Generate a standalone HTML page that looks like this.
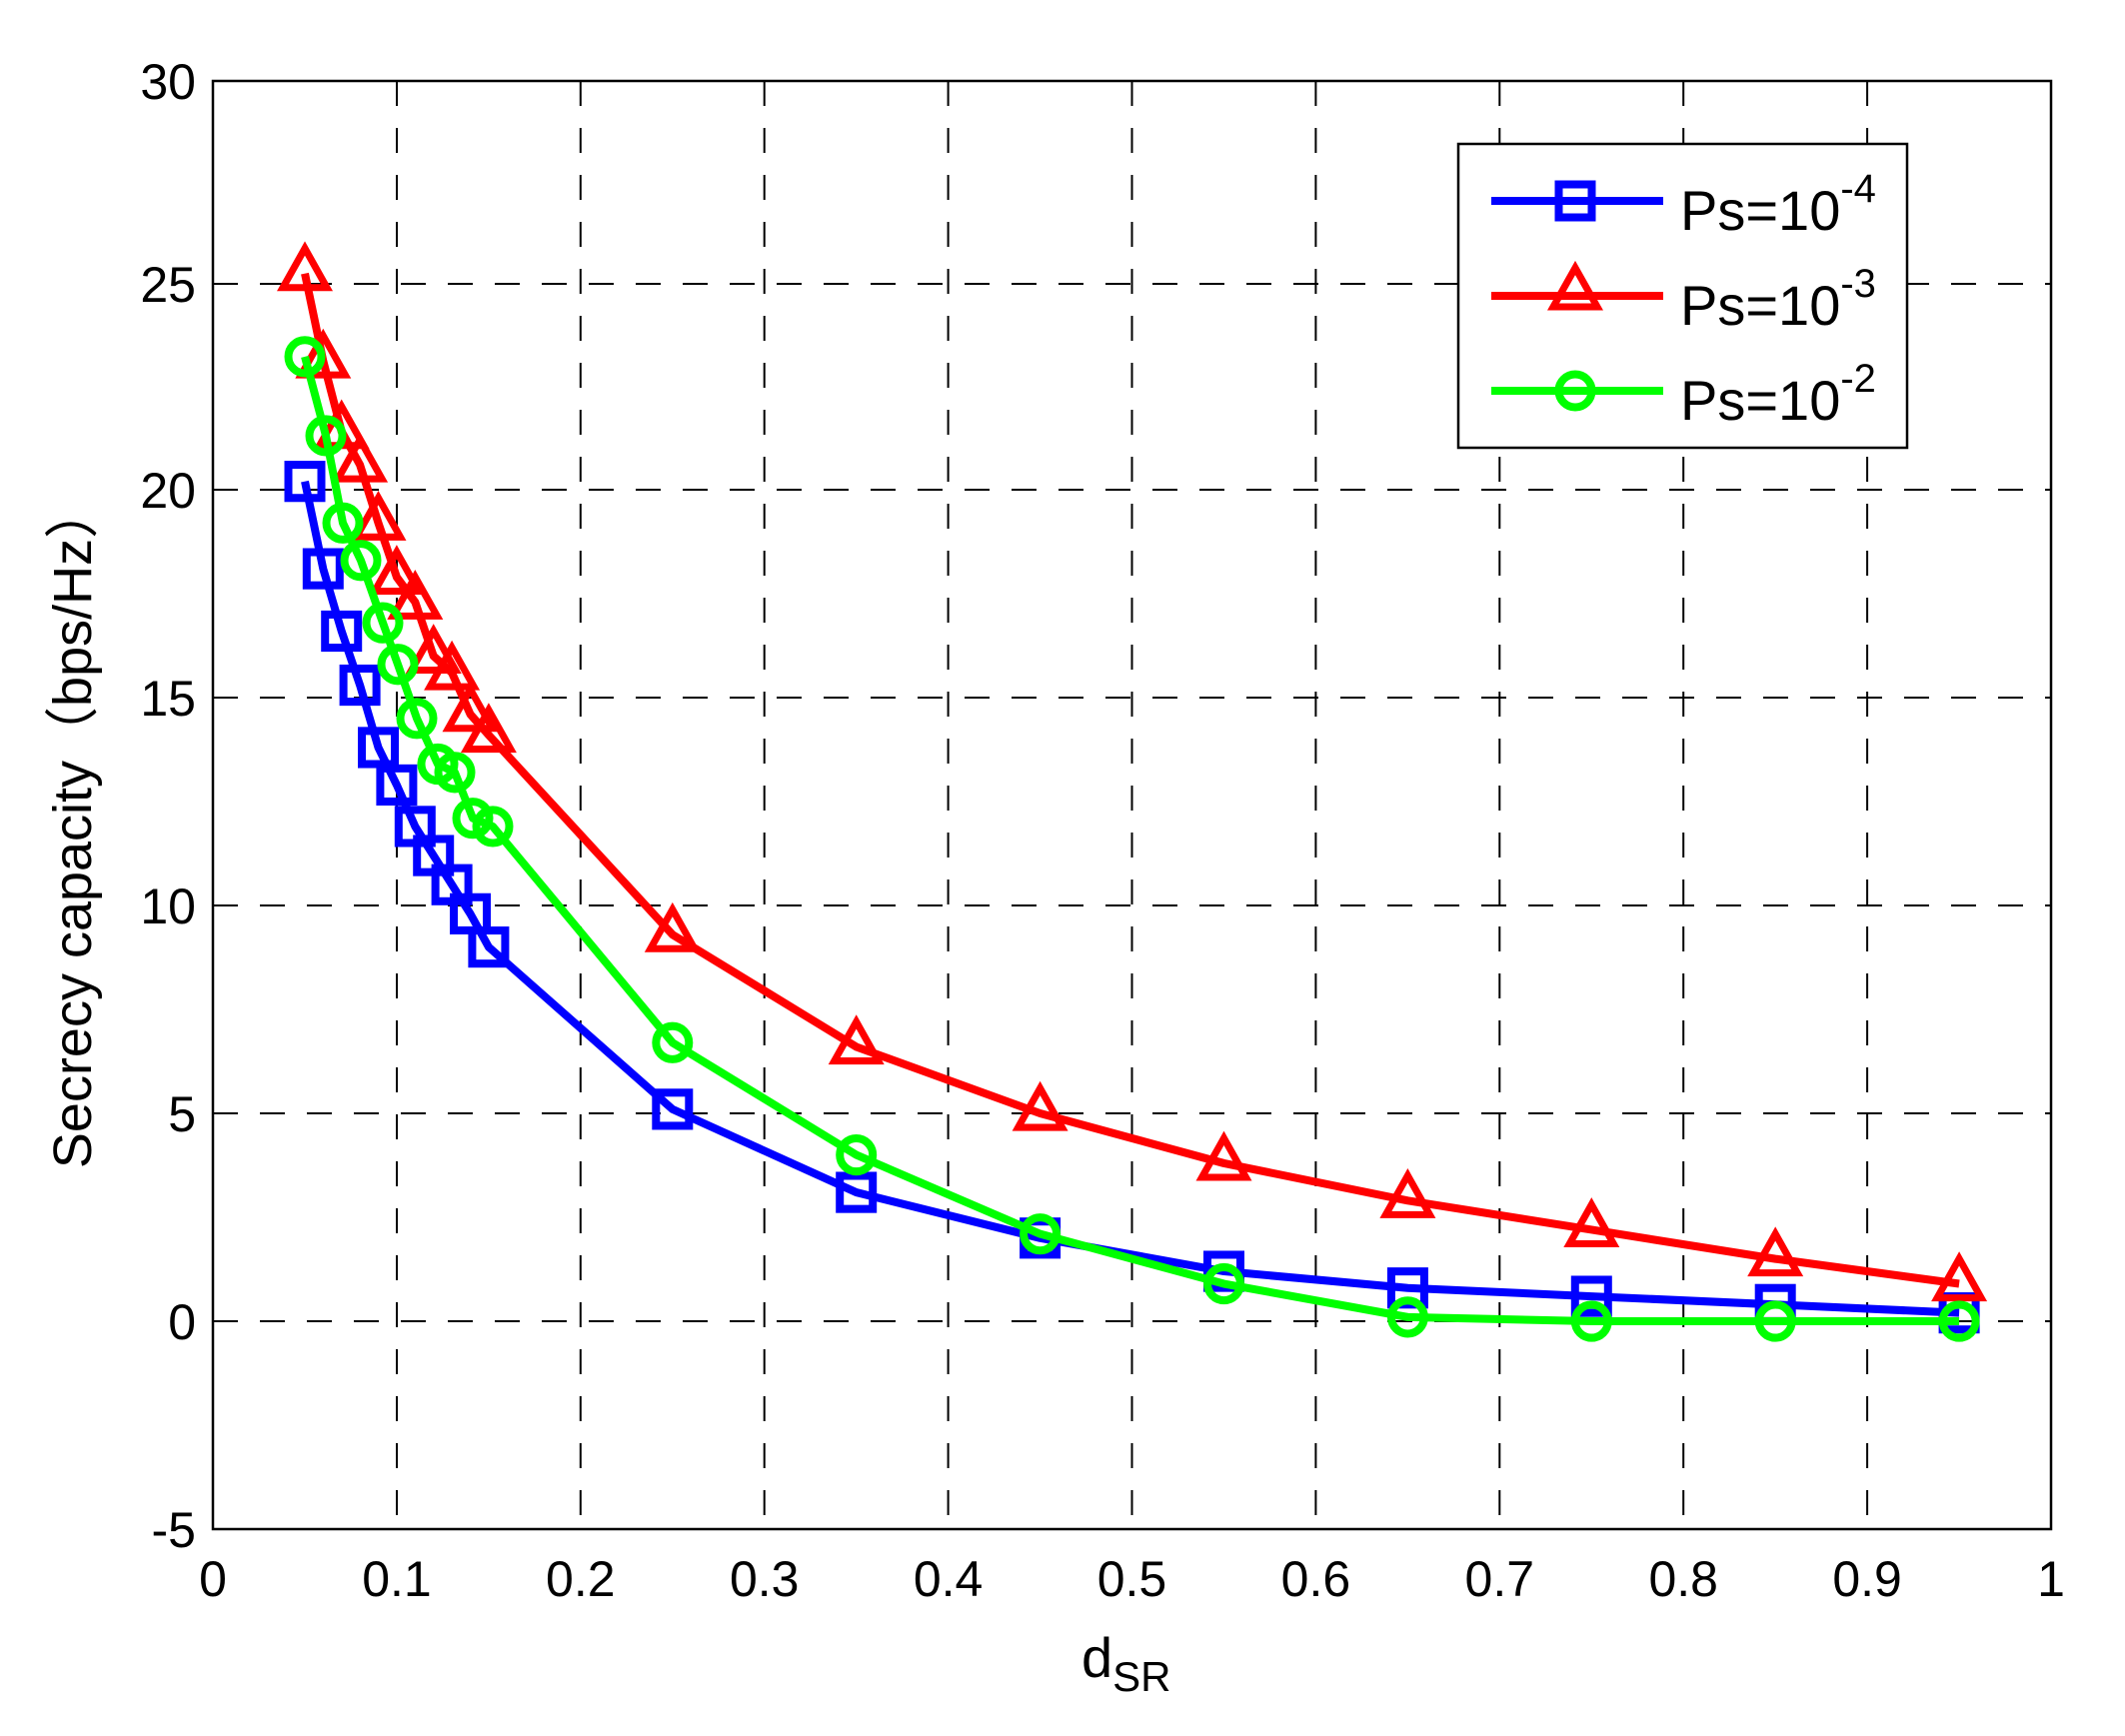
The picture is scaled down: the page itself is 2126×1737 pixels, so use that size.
<!DOCTYPE html>
<html><head><meta charset="utf-8"><style>
html,body{margin:0;padding:0;background:#fff;}
svg{display:block;}
text{font-family:"Liberation Sans","Noto Sans CJK SC",sans-serif;fill:#000;}
</style></head><body>
<svg width="2126" height="1737" viewBox="0 0 2126 1737" xmlns="http://www.w3.org/2000/svg">
<defs>
<g id="sq"><rect x="-16.5" y="-16.5" width="33" height="33" fill="none" stroke="#0000ff" stroke-width="8"/></g>
<g id="tri"><polygon points="0,-25 22,14 -22,14" fill="none" stroke="#ff0000" stroke-width="7"/></g>
<g id="cir"><circle r="16.5" fill="none" stroke="#00ff00" stroke-width="8"/></g>
</defs>
<rect x="0" y="0" width="2126" height="1737" fill="#fff"/>
<g stroke="#000" stroke-width="2" stroke-dasharray="25,22">
<line x1="397" y1="81" x2="397" y2="1530"/><line x1="580.8" y1="81" x2="580.8" y2="1530"/><line x1="764.7" y1="81" x2="764.7" y2="1530"/><line x1="948.6" y1="81" x2="948.6" y2="1530"/><line x1="1132.5" y1="81" x2="1132.5" y2="1530"/><line x1="1316.4" y1="81" x2="1316.4" y2="1530"/><line x1="1500.3" y1="81" x2="1500.3" y2="1530"/><line x1="1684.2" y1="81" x2="1684.2" y2="1530"/><line x1="1868.1" y1="81" x2="1868.1" y2="1530"/>
<line x1="213" y1="284" x2="2052" y2="284"/><line x1="213" y1="490" x2="2052" y2="490"/><line x1="213" y1="698" x2="2052" y2="698"/><line x1="213" y1="906" x2="2052" y2="906"/><line x1="213" y1="1114" x2="2052" y2="1114"/><line x1="213" y1="1322" x2="2052" y2="1322"/>
</g>
<rect x="213" y="81" width="1839" height="1449" fill="none" stroke="#000" stroke-width="2.5"/>
<g font-size="50" text-anchor="end">
<text x="196" y="99">30</text><text x="196" y="302">25</text><text x="196" y="508">20</text><text x="196" y="716">15</text><text x="196" y="924">10</text><text x="196" y="1132">5</text><text x="196" y="1340">0</text><text x="196" y="1548">-5</text>
</g>
<g font-size="50" text-anchor="middle">
<text x="213" y="1597">0</text><text x="397" y="1597">0.1</text><text x="580.8" y="1597">0.2</text><text x="764.7" y="1597">0.3</text><text x="948.6" y="1597">0.4</text><text x="1132.5" y="1597">0.5</text><text x="1316.4" y="1597">0.6</text><text x="1500.3" y="1597">0.7</text><text x="1684.2" y="1597">0.8</text><text x="1868.1" y="1597">0.9</text><text x="2052" y="1597">1</text>
</g>
<text x="1082" y="1678" font-size="56">d<tspan font-size="42" dy="14">SR</tspan></text>
<text transform="translate(91,827) rotate(-90)" font-size="54" text-anchor="middle">Secrecy capacity（bps/Hz）</text>
<g transform="translate(0,74) scale(1,1.00483) translate(0,-80)">
<polyline fill="none" stroke="#0000ff" stroke-width="8" stroke-linejoin="round" points="305,485.7 323.3,572.7 341.7,634.8 360.1,688.6 378.5,750.7 396.9,788 415.3,829.3 433.7,858.3 452.1,887.3 470.5,916.3 488.9,949.4 672.8,1110.9 856.7,1193.7 1040.6,1239.2 1224.5,1272.3 1408.4,1288.9 1592.3,1297.2 1776.2,1305.4 1960.1,1313.7"/>
<use href="#sq" x="305" y="485.7"/><use href="#sq" x="323.3" y="572.7"/><use href="#sq" x="341.7" y="634.8"/><use href="#sq" x="360.1" y="688.6"/><use href="#sq" x="378.5" y="750.7"/><use href="#sq" x="396.9" y="788"/><use href="#sq" x="415.3" y="829.3"/><use href="#sq" x="433.7" y="858.3"/><use href="#sq" x="452.1" y="887.3"/><use href="#sq" x="470.5" y="916.3"/><use href="#sq" x="488.9" y="949.4"/><use href="#sq" x="672.8" y="1110.9"/><use href="#sq" x="856.7" y="1193.7"/><use href="#sq" x="1040.6" y="1239.2"/><use href="#sq" x="1224.5" y="1272.3"/><use href="#sq" x="1408.4" y="1288.9"/><use href="#sq" x="1592.3" y="1297.2"/><use href="#sq" x="1776.2" y="1305.4"/><use href="#sq" x="1960.1" y="1313.7"/>
<polyline fill="none" stroke="#ff0000" stroke-width="8" stroke-linejoin="round" points="305,278.7 323.3,365.7 341.7,436 360.1,469.2 378.5,527.1 396.9,581 415.3,605.8 433.7,659.6 452.1,676.2 470.5,717.6 488.9,738.3 672.8,937 856.7,1048.8 1040.6,1115 1224.5,1164.7 1408.4,1201.9 1592.3,1230.9 1776.2,1259.9 1960.1,1284.7"/>
<use href="#tri" x="305" y="278.7"/><use href="#tri" x="323.3" y="365.7"/><use href="#tri" x="341.7" y="436"/><use href="#tri" x="360.1" y="469.2"/><use href="#tri" x="378.5" y="527.1"/><use href="#tri" x="396.9" y="581"/><use href="#tri" x="415.3" y="605.8"/><use href="#tri" x="433.7" y="659.6"/><use href="#tri" x="452.1" y="676.2"/><use href="#tri" x="470.5" y="717.6"/><use href="#tri" x="488.9" y="738.3"/><use href="#tri" x="672.8" y="937"/><use href="#tri" x="856.7" y="1048.8"/><use href="#tri" x="1040.6" y="1115"/><use href="#tri" x="1224.5" y="1164.7"/><use href="#tri" x="1408.4" y="1201.9"/><use href="#tri" x="1592.3" y="1230.9"/><use href="#tri" x="1776.2" y="1259.9"/><use href="#tri" x="1960.1" y="1284.7"/>
<polyline fill="none" stroke="#00ff00" stroke-width="8" stroke-linejoin="round" points="305,361.5 326,440.2 343,527.1 361,564.4 383,626.5 398,667.9 417,721.7 438,767.2 455,775.5 473,821.1 493,829.3 672.8,1044.6 856.7,1156.4 1040.6,1235.1 1224.5,1284.7 1408.4,1317.9 1592.3,1322 1776.2,1322 1960.1,1322"/>
<use href="#cir" x="305" y="361.5"/><use href="#cir" x="326" y="440.2"/><use href="#cir" x="343" y="527.1"/><use href="#cir" x="361" y="564.4"/><use href="#cir" x="383" y="626.5"/><use href="#cir" x="398" y="667.9"/><use href="#cir" x="417" y="721.7"/><use href="#cir" x="438" y="767.2"/><use href="#cir" x="455" y="775.5"/><use href="#cir" x="473" y="821.1"/><use href="#cir" x="493" y="829.3"/><use href="#cir" x="672.8" y="1044.6"/><use href="#cir" x="856.7" y="1156.4"/><use href="#cir" x="1040.6" y="1235.1"/><use href="#cir" x="1224.5" y="1284.7"/><use href="#cir" x="1408.4" y="1317.9"/><use href="#cir" x="1592.3" y="1322"/><use href="#cir" x="1776.2" y="1322"/><use href="#cir" x="1960.1" y="1322"/>
</g>
<rect x="1459" y="144" width="449" height="304" fill="#fff" stroke="#000" stroke-width="2.5"/>
<line x1="1492" y1="201" x2="1664" y2="201" stroke="#0000ff" stroke-width="8"/><use href="#sq" x="1576" y="201"/>
<line x1="1492" y1="296" x2="1664" y2="296" stroke="#ff0000" stroke-width="8"/><use href="#tri" x="1576" y="293"/>
<line x1="1492" y1="391" x2="1664" y2="391" stroke="#00ff00" stroke-width="8"/><use href="#cir" x="1576" y="391"/>
<g font-size="56">
<text x="1681" y="230">Ps=10<tspan font-size="40" dy="-28">-4</tspan></text>
<text x="1681" y="325">Ps=10<tspan font-size="40" dy="-28">-3</tspan></text>
<text x="1681" y="420">Ps=10<tspan font-size="40" dy="-28">-2</tspan></text>
</g>
</svg>
</body></html>
